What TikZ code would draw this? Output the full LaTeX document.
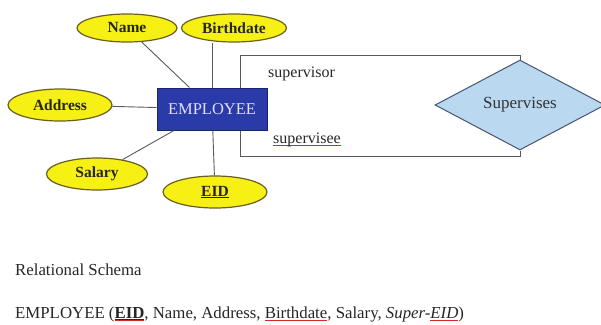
\documentclass[tikz,border=0pt]{standalone}
\usepackage{fontspec}
\setmainfont{Liberation Serif}
\usetikzlibrary{shapes.geometric}
\definecolor{attryellow}{RGB}{246,240,20}
\definecolor{attrline}{RGB}{105,95,30}
\definecolor{entblue}{RGB}{42,58,168}
\definecolor{entline}{RGB}{25,35,110}
\definecolor{relblue}{RGB}{186,216,240}
\definecolor{relline}{RGB}{70,85,110}
\definecolor{spellred}{RGB}{215,40,40}
\newsavebox{\markbox}
\newcommand{\spellmark}[1]{\sbox{\markbox}{#1}\rlap{\color{spellred}\rule[-2.6pt]{\wd\markbox}{0.7pt}}\usebox{\markbox}}
\tikzset{
  attr/.style={ellipse,draw=attrline,fill=attryellow,line width=1.2pt,inner sep=0pt,
    font=\fontsize{15.5}{18}\selectfont\bfseries,text=black!85},
  entity/.style={rectangle,draw=entline,fill=entblue,line width=1pt,inner sep=0pt,
    minimum width=110pt,minimum height=42pt,text=white!88!blue,font=\fontsize{16.5}{18}\selectfont},
  rel/.style={diamond,draw=relline,fill=relblue,line width=1pt,inner sep=0pt,aspect=1.93,
    minimum width=170pt,minimum height=90pt,font=\fontsize{17}{18}\selectfont,text=black!80},
  role/.style={inner sep=0pt,anchor=base west,font=\fontsize{16}{18}\selectfont,text=black!85},
  link/.style={draw=black!65,line width=0.9pt},
  schema/.style={inner sep=0pt,anchor=base west,font=\fontsize{16.8}{20}\selectfont,text=black!85},
}
\begin{document}
\begin{tikzpicture}[x=1pt,y=-1pt]
    \useasboundingbox (0,0) rectangle (601,324);

    % relationship box
    \node[rel] (sup) at (520,105) {Supervises};
    \coordinate (top) at (240,55);
    \coordinate (bot) at (240,156);

    \node[entity] (emp) at (212,109) {EMPLOYEE};
    \draw[link] (emp.north -| top) -- (top) -- (top -| sup.north) -- (sup.north);
    \draw[link] (emp.south -| bot) -- (bot) -- (bot -| sup.south) -- (sup.south);
    \node[role] (sor) at (268,77) {supervisor};
    \node[role] (see) at (273,143) {\spellmark{supervisee}};

    % attributes
    \node[attr,minimum width=100pt,minimum height=28pt] (name) at (127,28) {Name};
    \node[attr,minimum width=105pt,minimum height=28pt] (birth) at (234,28) {Birthdate};
    \node[attr,minimum width=104pt,minimum height=32pt] (addr) at (60,105) {Address};
    \node[attr,minimum width=101pt,minimum height=32pt] (sal) at (97,174) {Salary};
    \node[attr,minimum width=104pt,minimum height=32pt] (eid) at (215,192) {\underline{EID}};
    \draw[link] (name) -- (emp);
    \draw[link] (emp.north) -- (emp.north |- birth.south);
    \draw[link] (addr) -- (emp);
    \draw[link] (sal) -- (emp);
    \draw[link] (eid) -- (emp);

    % schema text
    \node[schema] (title) at (15,275) {Relational Schema};
    \node[schema] (rel) at (15,318)
      {EMPLOYEE (\spellmark{\underline{\textbf{EID}}}, Name, Address, \spellmark{Birthdate}, Salary, \textit{Super-\spellmark{EID}})};
\end{tikzpicture}
\end{document}
